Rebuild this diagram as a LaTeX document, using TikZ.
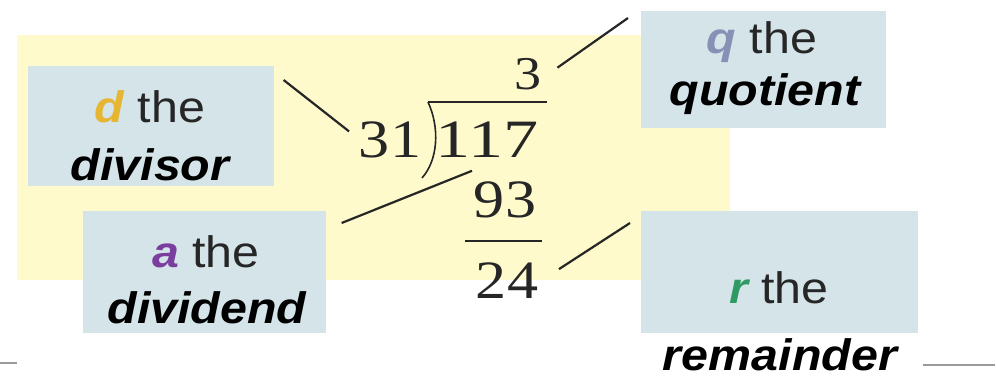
\documentclass[tikz,border=0pt]{standalone}
\usepackage{fontspec}
\setmainfont{Liberation Sans}
\newfontfamily\numfont{Liberation Serif}
\usetikzlibrary{positioning}
\definecolor{cyellow}{HTML}{FFFACC}
\definecolor{cbox}{HTML}{D5E4E9}
\definecolor{cdvs}{HTML}{E6B531}
\definecolor{cdvd}{HTML}{7A3E9E}
\definecolor{cquo}{HTML}{8791B5}
\definecolor{crem}{HTML}{2F9A63}
\definecolor{cline}{HTML}{262626}
\definecolor{cgrey}{HTML}{9A9A9A}
\tikzset{
  every picture/.style={line width=1.6pt},
  lbox/.style={fill=cbox, inner sep=0pt, anchor=north west},
  lbl/.style={font=\fontsize{44}{50}\selectfont, text=cline, anchor=base, inner sep=0pt, xscale=1.1, transform shape},
  num/.style={font=\numfont\fontsize{54}{60}\selectfont, text=cline, anchor=base, inner sep=0pt, xscale=1.15, transform shape},
  link/.style={draw=cline, line width=2.2pt},
}
\newcommand{\term}[2]{{\bfseries\itshape\color{#1}#2}}

\begin{document}
\begin{tikzpicture}[x=1pt, y=-1pt]
  \useasboundingbox (0,0) rectangle (996,383);
  \fill[cyellow] (17,35) rectangle (730,280);

  % label boxes
  \node[lbox, minimum width=246pt, minimum height=120pt] (dvsbox) at (27,65) {};
  \node[lbox, minimum width=243pt, minimum height=122pt] (dvdbox) at (82,210) {};
  \node[lbox, minimum width=245pt, minimum height=117pt] (quobox) at (640,10) {};
  \node[lbox, minimum width=277pt, minimum height=122pt] (rembox) at (640,210) {};

  \node[lbl] (dvsA) at (150,122) {\term{cdvs}{d} the};
  \node[lbl] (dvsB) at (150,180) {\term{black}{divisor}};
  \node[lbl] (dvdA) at (206,267) {\term{cdvd}{a} the};
  \node[lbl] (dvdB) at (207,323) {\term{black}{dividend}};
  \node[lbl] (quoA) at (762,53) {\term{cquo}{q} the};
  \node[lbl] (quoB) at (765,105) {\term{black}{quotient}};
  \node[lbl] (remA) at (779,303) {\term{crem}{r} the};
  \node[lbl] (remB) at (780,370) {\term{black}{remainder}};

  % the long division
  \node[num, font=\numfont\fontsize{47}{52}\selectfont] (n3) at (528,89) {3};
  \node[num] (n31) at (390,157) {31};
  \node[num, xscale=1.13] (n117) at (487,157) {117};
  \node[num] (n93) at (505,217) {93};
  \node[num] (n24) at (507,298) {24};
  \draw[cline, line width=1.6pt] (428,102) -- (547,102);
  \draw[cline, line width=1.6pt] (428,102) .. controls (440,128) and (438,160) .. (422,178);
  \draw[cline, line width=1.8pt] (465,241) -- (542,241);

  % connectors
  \draw[link] ([shift={(9,15)}]dvsbox.north east) -- ([shift={(-9,-8)}]n31.west);
  \draw[link] ([shift={(15,13)}]dvdbox.north east) -- ([shift={(-15,13)}]n117.south);
  \draw[link] ([shift={(15,-6)}]n3.east) -- ([shift={(-12,8)}]quobox.north west);
  \draw[link] ([shift={(20,-11)}]n24.east) -- ([shift={(-10,13)}]rembox.north west);

  \draw[cgrey, line width=1.4pt] (0,363) -- (17,363);
  \draw[cgrey, line width=1.4pt] (923,365) -- (995,365);
\end{tikzpicture}
\end{document}
